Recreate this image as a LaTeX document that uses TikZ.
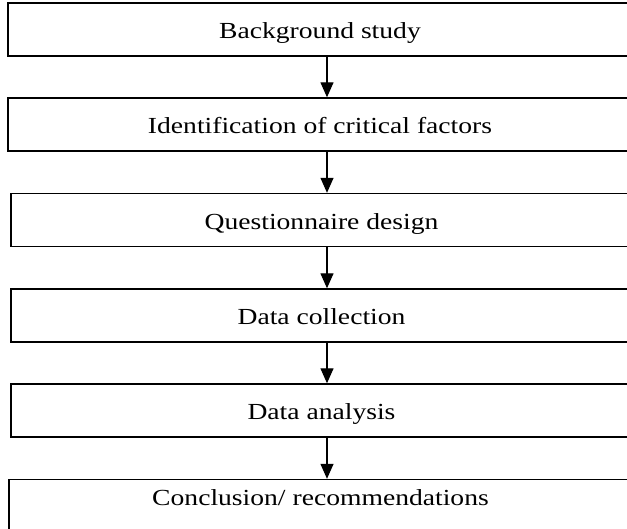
\documentclass[tikz,border=0pt]{standalone}
\usepackage{fontspec}
\setmainfont{Liberation Serif}[FakeStretch=1.2]
\usetikzlibrary{arrows.meta}

\begin{document}
\begin{tikzpicture}[x=1pt, y=-1pt, stage/.style={draw, line width=1.4pt, minimum height=53pt, inner sep=0pt, text height=19pt, text depth=0pt, font=\fontsize{23}{27}\selectfont}, flow/.style={line width=1.3pt, -{Triangle[length=15pt, width=13pt]}}]
			\useasboundingbox (0,0) rectangle (627,529);
			\clip (0,0) rectangle (627,529);
			\node[stage, minimum width=624pt] (bg) at (320,29.5) {Background study};
			\node[stage, minimum width=624pt] (ident) at (320,124.5) {Identification of critical factors};
			\node[stage, minimum width=621pt] (quest) at (321.5,220) {Questionnaire design};
			\node[stage, minimum width=621pt] (coll) at (321.5,315.5) {Data collection};
			\node[stage, minimum width=621pt] (anal) at (321.5,410.5) {Data analysis};
			\node[stage, minimum width=623pt, text depth=21pt] (concl) at (320.5,506) {Conclusion/ recommendations};
			\coordinate (ax) at (327,0);
			\draw[flow] (bg.south -| ax) -- (ident.north -| ax);
			\draw[flow] (ident.south -| ax) -- (quest.north -| ax);
			\draw[flow] (quest.south -| ax) -- (coll.north -| ax);
			\draw[flow] (coll.south -| ax) -- (anal.north -| ax);
			\draw[flow] (anal.south -| ax) -- (concl.north -| ax);
			\end{tikzpicture}
\end{document}
